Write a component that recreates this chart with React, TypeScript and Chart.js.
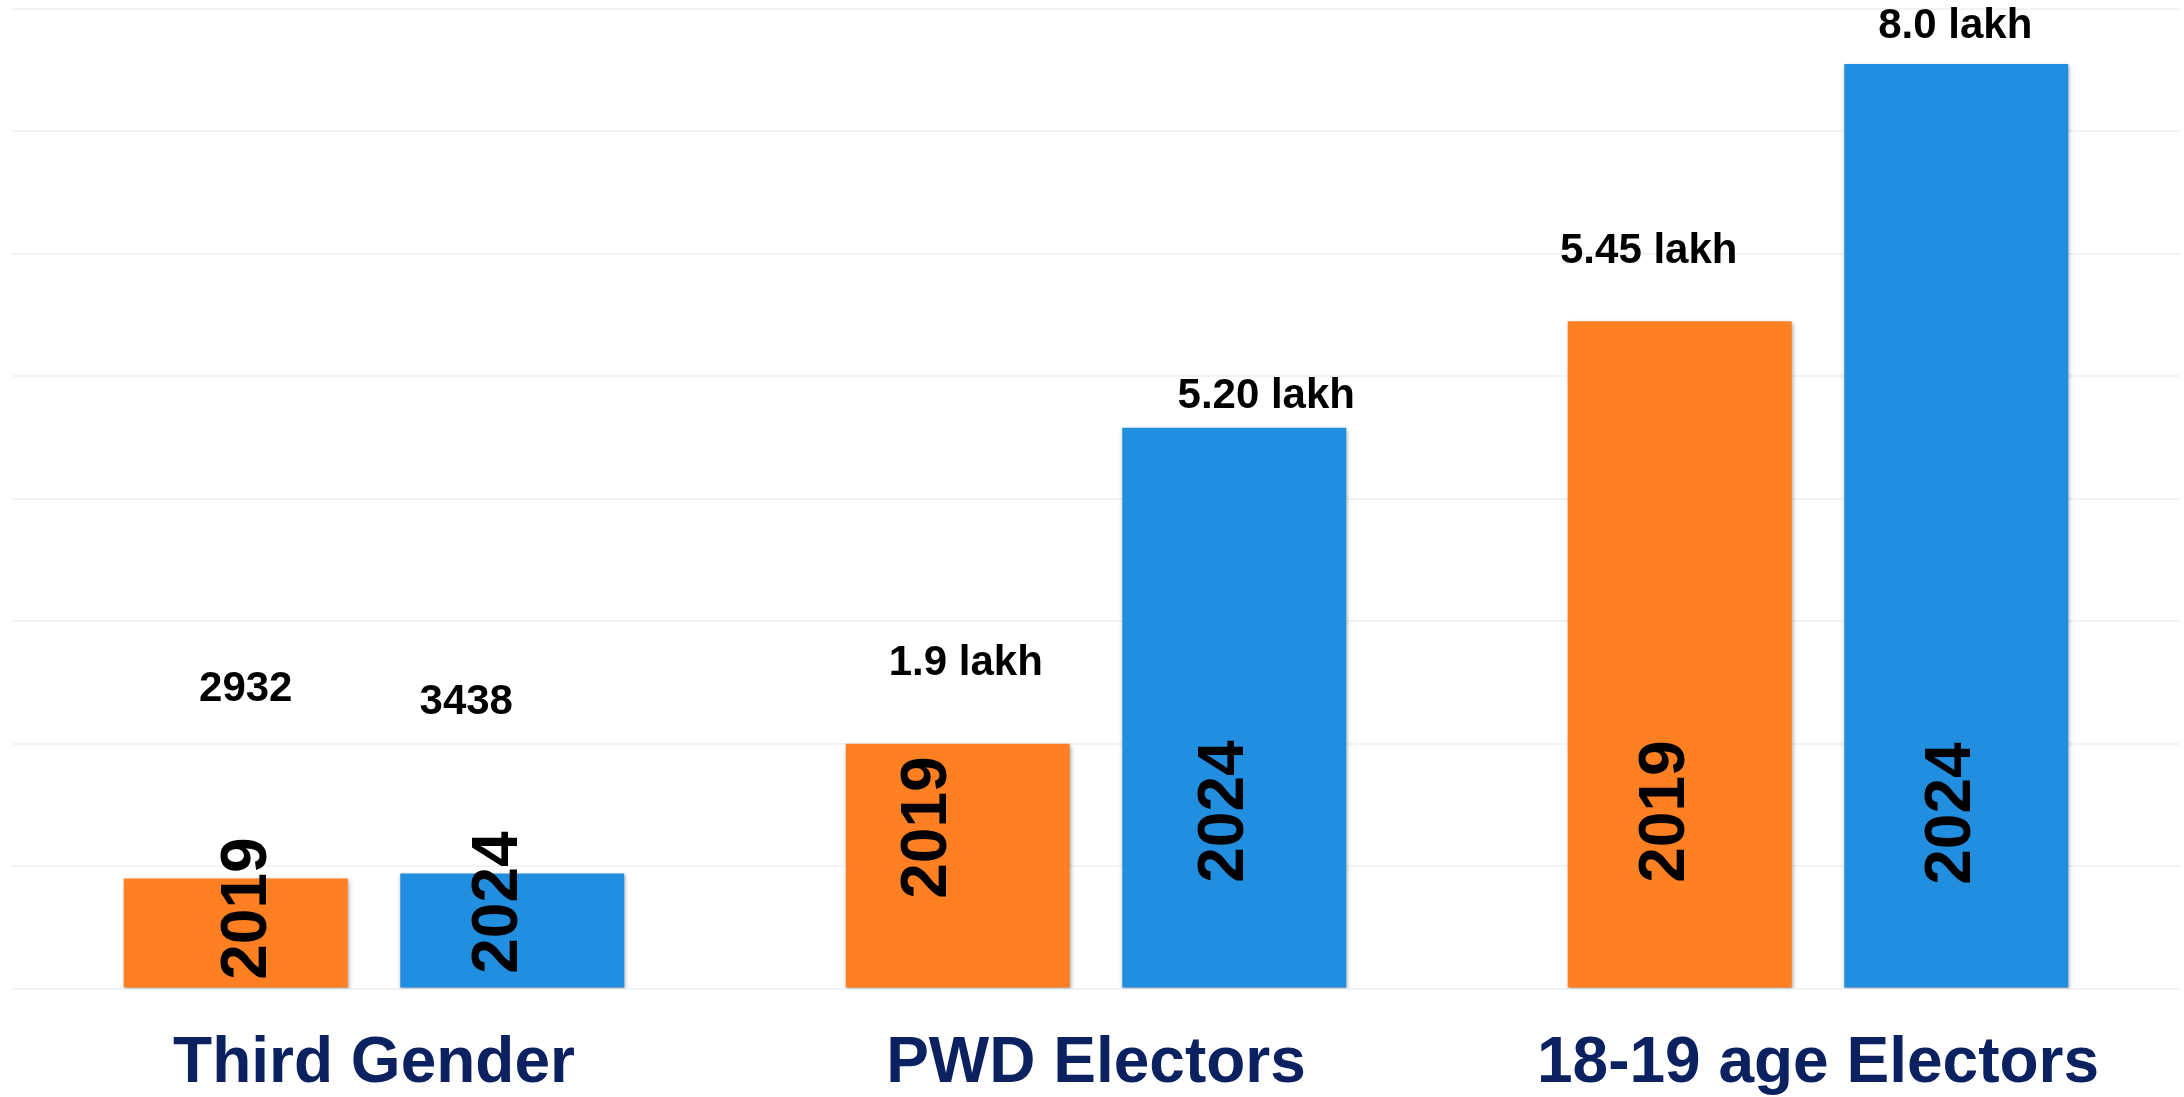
import React, { useEffect, useRef } from "react";
import { Chart, registerables } from "chart.js";

Chart.register(...registerables);

// ---- data ----
const categories = ["Third Gender", "PWD Electors", "18-19 age Electors"];
const seriesNames = ["2019", "2024"];
// bar heights as drawn (axis units)
const values2019 = [0.9, 2.0, 5.45];
const values2024 = [0.94, 4.58, 7.55];
// value label texts
const labels2019 = ["2932", "1.9 lakh", "5.45 lakh"];
const labels2024 = ["3438", "5.20 lakh", "8.0 lakh"];
const yTicks = [0, 1, 2, 3, 4, 5, 6, 7, 8];

// ---- label placement (layout, px) ----
const valueShiftX = [
  [10, 8, -31],
  [-46, 32, -1],
];
const valueGapAbove = [
  [177, 69, 58],
  [159, 20, 26],
];
const yearShiftX = [
  [13, -29, -13],
  [-13, -9, -4],
];
const yearRise = [
  [79, 160, 176],
  [85, 176, 174],
];

const FONT = "'Liberation Sans', Arial, Helvetica, sans-serif";
const ORANGE = "#FE8022";
const BLUE = "#218EE0";
const NAVY = "#0B2160";

const shadowPlugin = {
  id: "barShadow",
  beforeDatasetsDraw(chart: any) {
    const ctx = chart.ctx;
    ctx.save();
    ctx.shadowColor = "rgba(0,0,0,0.35)";
    ctx.shadowBlur = 4;
    ctx.shadowOffsetX = 1;
    ctx.shadowOffsetY = 2;
  },
  afterDatasetsDraw(chart: any) {
    chart.ctx.restore();
  },
};

const labelPlugin = {
  id: "barLabels",
  afterDraw(chart: any) {
    const ctx = chart.ctx;
    const valueTexts = [labels2019, labels2024];
    chart.data.datasets.forEach((ds: any, i: number) => {
      const meta = chart.getDatasetMeta(i);
      meta.data.forEach((bar: any, j: number) => {
        const x = bar.x;
        const top = bar.y;
        const base = bar.base;
        // value label
        ctx.save();
        ctx.fillStyle = "#000";
        ctx.font = `bold 42px ${FONT}`;
        ctx.textAlign = "center";
        ctx.textBaseline = "alphabetic";
        ctx.fillText(valueTexts[i][j], x + valueShiftX[i][j], top - valueGapAbove[i][j]);
        ctx.restore();
        // rotated year label
        ctx.save();
        ctx.fillStyle = "#000";
        ctx.font = `bold 64px ${FONT}`;
        ctx.translate(x + yearShiftX[i][j], base - yearRise[i][j]);
        ctx.rotate(-Math.PI / 2);
        ctx.textAlign = "center";
        ctx.textBaseline = "middle";
        ctx.fillText(seriesNames[i], 0, 0);
        ctx.restore();
      });
    });
  },
};

export default function App() {
  const ref = useRef<HTMLCanvasElement | null>(null);

  useEffect(() => {
    if (!ref.current) return;
    const chart = new Chart(ref.current, {
      type: "bar",
      data: {
        labels: categories,
        datasets: [
          {
            label: seriesNames[0],
            data: values2019,
            backgroundColor: ORANGE,
            borderWidth: 0,
            categoryPercentage: 0.766,
            barPercentage: 0.81,
          },
          {
            label: seriesNames[1],
            data: values2024,
            backgroundColor: BLUE,
            borderWidth: 0,
            categoryPercentage: 0.766,
            barPercentage: 0.81,
          },
        ],
      },
      options: {
        animation: false,
        responsive: true,
        maintainAspectRatio: false,
        layout: { padding: { left: 13, right: 5, top: 9, bottom: -44 } },
        plugins: {
          legend: { display: false },
          tooltip: { enabled: false },
          title: { display: false },
        },
        scales: {
          x: {
            grid: { display: false, drawTicks: false },
            border: { display: false },
            ticks: {
              color: NAVY,
              padding: 41,
              font: { family: FONT, size: 64, weight: "bold", lineHeight: 1.1 },
            },
          },
          y: {
            min: yTicks[0],
            max: yTicks[yTicks.length - 1],
            afterBuildTicks: (axis: any) => {
              axis.ticks = yTicks.map((v) => ({ value: v }));
            },
            grid: { color: "#EFF4F9", lineWidth: 2, drawTicks: false },
            border: { display: false },
            ticks: { display: false },
          },
        },
      },
      plugins: [shadowPlugin, labelPlugin],
    });
    return () => chart.destroy();
  }, []);

  return (
    <div
      style={{
        position: "fixed",
        left: 0,
        top: 0,
        width: 2184,
        height: 1097,
        background: "#fff",
      }}
    >
      <canvas ref={ref} />
    </div>
  );
}
